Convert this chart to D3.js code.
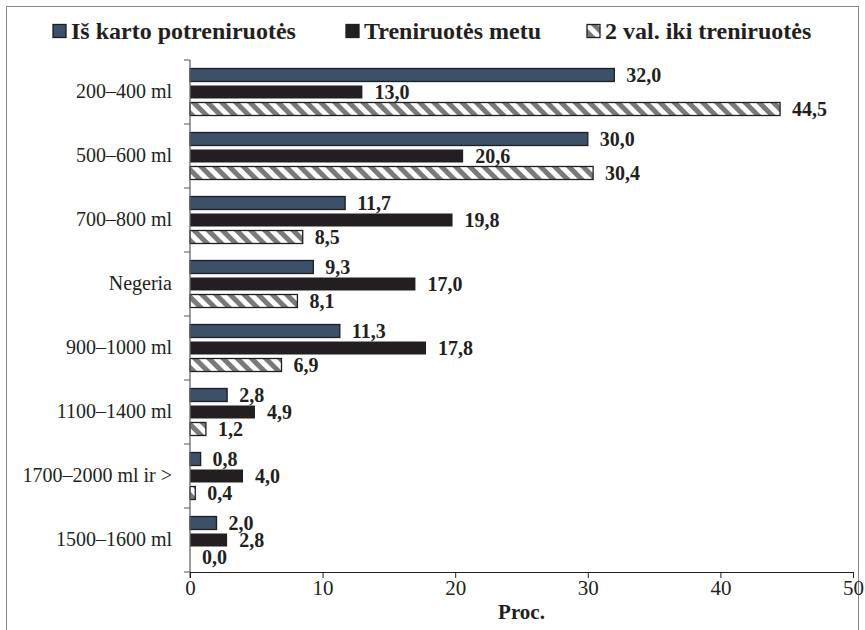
<!DOCTYPE html>
<html>
<head>
<meta charset="utf-8">
<title>Skysčių vartojimas</title>
<script src="https://cdn.jsdelivr.net/npm/d3@7"></script>
<style>
  body { margin: 0; background: #fff; }
  svg { display: block; font-family: "Liberation Serif", "Times New Roman", serif; }
  .cat text { font-size: 20px; fill: #231f20; }
  .xax text { font-size: 21px; fill: #231f20; }
  .val { font-size: 20px; font-weight: bold; fill: #231f20; }
  .leg text { font-size: 24px; font-weight: bold; fill: #231f20; }
</style>
</head>
<body>
<script>
// categories (top to bottom)
var categories = ["200–400 ml", "500–600 ml", "700–800 ml", "Negeria", "900–1000 ml",
                  "1100–1400 ml", "1700–2000 ml ir >", "1500–1600 ml"];
var seriesNames = ["Iš karto potreniruotės", "Treniruotės metu", "2 val. iki treniruotės"];
var afterTraining = [32.0, 30.0, 11.7, 9.3, 11.3, 2.8, 0.8, 2.0];
var duringTraining = [13.0, 20.6, 19.8, 17.0, 17.8, 4.9, 4.0, 2.8];
var beforeTraining = [44.5, 30.4, 8.5, 8.1, 6.9, 1.2, 0.4, 0.0];
var xTicks = [0, 10, 20, 30, 40, 50];

var W = 865, H = 630;
var margin = {top: 60, right: 12, bottom: 58, left: 190};
var plotW = 853 - margin.left, plotH = 572 - margin.top;
var serif = "'Liberation Serif', 'Times New Roman', serif";

var svg = d3.select("body").append("svg").attr("width", W).attr("height", H);

// hatch pattern
var defs = svg.append("defs");
defs.append("pattern")
    .attr("id", "hatch")
    .attr("patternUnits", "userSpaceOnUse")
    .attr("width", 10).attr("height", 10)
    .attr("patternTransform", "rotate(-45)")
  .call(function(p) {
    p.append("rect").attr("width", 10).attr("height", 10).attr("fill", "#fff");
    p.append("rect").attr("x", 0).attr("width", 5).attr("height", 10).attr("fill", "#7a7a7a");
  });

// outer frame
svg.append("rect")
    .attr("x", 6.5).attr("y", 6.5).attr("width", 852).attr("height", 640)
    .attr("fill", "none").attr("stroke", "#888").attr("stroke-width", 1);

var series = [
  {name: seriesNames[0], values: afterTraining, fill: "#3b5069", stroke: "#1e1e1e"},
  {name: seriesNames[1], values: duringTraining, fill: "#231f20", stroke: "none"},
  {name: seriesNames[2], values: beforeTraining, fill: "url(#hatch)", stroke: "#1e1e1e"}
];

var g = svg.append("g").attr("transform", "translate(" + margin.left + "," + margin.top + ")");

var x = d3.scaleLinear().domain([0, 50]).range([0, plotW]);
var y = d3.scaleBand().domain(categories).range([0, plotH]).paddingInner(0).paddingOuter(0);
var y1 = d3.scaleBand().domain(d3.range(series.length)).range([0, y.bandwidth()])
    .paddingInner(4 / 17).paddingOuter(0.5);

var fmt = function(v) { return d3.format(".1f")(v).replace(".", ","); };

// bars
series.forEach(function(s, si) {
  var rows = categories.map(function(c, i) { return {cat: c, v: s.values[i]}; });
  g.selectAll(".bar" + si).data(rows).enter().append("rect")
      .attr("x", 0)
      .attr("y", function(d) { return y(d.cat) + y1(si); })
      .attr("width", function(d) { return x(d.v); })
      .attr("height", y1.bandwidth())
      .attr("fill", s.fill)
      .attr("stroke", function(d) { return d.v > 0 ? s.stroke : "none"; })
      .attr("stroke-width", 1.3);
  g.selectAll(".val" + si).data(rows).enter().append("text")
      .attr("class", "val")
      .attr("x", function(d) { return x(d.v) + 12; })
      .attr("y", function(d) { return y(d.cat) + y1(si) + y1.bandwidth() / 2; })
      .attr("dy", "0.35em")
      .text(function(d) { return fmt(d.v); });
});

// y axis: labels centred, ticks at band edges
var yAx = g.append("g").attr("class", "cat")
    .call(d3.axisLeft(y).tickSize(0).tickPadding(18));
yAx.attr("font-family", serif).attr("font-size", null);
yAx.select(".domain").remove();
var edges = categories.map(function(c) { return y(c); }).concat([plotH]);
g.append("g").selectAll("line").data(edges).enter().append("line")
    .attr("x1", -6).attr("x2", 0)
    .attr("y1", function(d) { return d; }).attr("y2", function(d) { return d; })
    .attr("stroke", "#555");
g.append("line").attr("x1", 0).attr("x2", 0).attr("y1", 0).attr("y2", plotH + 6)
    .attr("stroke", "#666").attr("stroke-width", 1.3);

// x axis
var xAx = g.append("g").attr("class", "xax")
    .attr("transform", "translate(0," + plotH + ")")
    .call(d3.axisBottom(x).tickValues(xTicks).tickSize(6).tickPadding(2).tickSizeOuter(0));
xAx.attr("font-family", serif).attr("font-size", null);
xAx.selectAll("line, .domain").attr("stroke", "#231f20");

g.append("text")
    .attr("x", plotW / 2).attr("y", plotH + 47)
    .attr("text-anchor", "middle")
    .style("font-size", "21px").style("font-weight", "bold").attr("fill", "#231f20")
    .text("Proc.");

// legend
var legX = [53, 346, 587];
var leg = svg.append("g").attr("class", "leg");
series.forEach(function(s, i) {
  leg.append("rect")
      .attr("x", legX[i]).attr("y", 24.5).attr("width", 13).attr("height", 13)
      .attr("fill", s.fill).attr("stroke", "#1e1e1e").attr("stroke-width", 1.3);
  leg.append("text")
      .attr("x", legX[i] + 18).attr("y", 38.5)
      .text(s.name);
});
</script>
</body>
</html>
